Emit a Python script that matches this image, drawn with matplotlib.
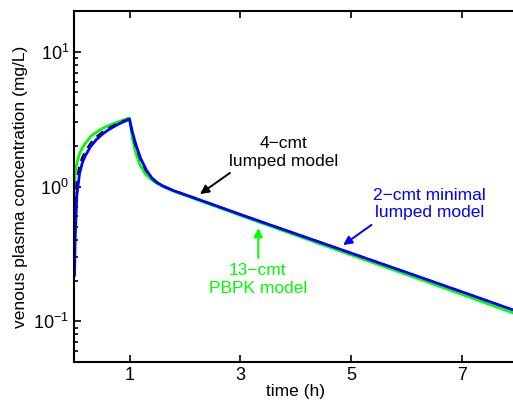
import numpy as np
import matplotlib
matplotlib.use("Agg")
import matplotlib.pyplot as plt
from matplotlib.ticker import LogLocator, FixedLocator, NullFormatter

plt.rcParams['font.family'] = ['Liberation Sans', 'DejaVu Sans']
plt.rcParams['mathtext.default'] = 'regular'

# 1 h infusion, venous plasma concentration (mg/L)
t_pbpk = [0.005, 0.02, 0.05, 0.1, 0.15, 0.2, 0.3, 0.4, 0.5, 0.6, 0.7, 0.8, 0.9, 1.0,
          1.05, 1.1, 1.15, 1.2, 1.3, 1.4, 1.5, 1.6, 1.8, 2.0, 2.5, 3.0, 3.5, 4.0,
          5.0, 6.0, 7.0, 8.0]
c_pbpk = [0.9, 1.2, 1.48, 1.75, 1.93, 2.08, 2.35, 2.52, 2.68, 2.80, 2.91, 3.02, 3.12, 3.22,
          2.3, 1.86, 1.6, 1.42, 1.22, 1.12, 1.05, 1.0, 0.92, 0.86, 0.725, 0.61, 0.515, 0.435,
          0.31, 0.222, 0.158, 0.112]

t_2cmt = [0.01, 0.02, 0.05, 0.1, 0.15, 0.2, 0.3, 0.4, 0.5, 0.6, 0.7, 0.8, 0.9, 1.0,
          1.05, 1.1, 1.15, 1.2, 1.3, 1.4, 1.5, 1.6, 1.8, 2.0, 2.5, 3.0, 3.5, 4.0,
          5.0, 6.0, 7.0, 8.0]
c_2cmt = [0.22, 0.40, 0.85, 1.25, 1.50, 1.68, 1.98, 2.22, 2.42, 2.60, 2.75, 2.90, 3.03, 3.15,
          2.55, 2.15, 1.85, 1.62, 1.33, 1.16, 1.07, 1.01, 0.93, 0.87, 0.735, 0.62, 0.525, 0.445,
          0.32, 0.23, 0.165, 0.118]

t_4cmt = [0.01, 0.02, 0.05, 0.1, 0.15, 0.2, 0.3, 0.4, 0.5, 0.6, 0.7, 0.8, 0.9, 1.0,
          1.05, 1.1, 1.15, 1.2, 1.3, 1.4, 1.5, 1.6, 1.8, 2.0, 2.5, 3.0, 3.5, 4.0,
          5.0, 6.0, 7.0, 8.0]
c_4cmt = [0.45, 0.7, 1.1, 1.45, 1.65, 1.82, 2.1, 2.33, 2.52, 2.68, 2.82, 2.95, 3.07, 3.18,
          2.45, 2.05, 1.78, 1.57, 1.30, 1.15, 1.06, 1.01, 0.93, 0.87, 0.735, 0.62, 0.525, 0.445,
          0.32, 0.23, 0.165, 0.118]

x_ticks = [1, 3, 5, 7]

fig = plt.figure(figsize=(5.13, 4.05), dpi=100)
ax = fig.add_axes([74 / 513, 43 / 405, 444 / 513, 351 / 405])

# green under, dashed 4-cmt next, blue on top
ax.plot(t_pbpk, c_pbpk, color='#00ff00', lw=2)
ax.plot(t_4cmt, c_4cmt, color='black', lw=1.5, ls=(0, (4, 3)))
ax.plot(t_2cmt, c_2cmt, color='#0000ff', lw=2)

ax.set_yscale('log')
ax.set_xlim(0, 8)
ax.set_ylim(0.05, 20)
ax.xaxis.set_major_locator(FixedLocator(x_ticks))
ax.yaxis.set_major_locator(LogLocator(base=10, numticks=10))
ax.yaxis.set_minor_locator(LogLocator(base=10, subs=np.arange(2, 10), numticks=10))
ax.yaxis.set_minor_formatter(NullFormatter())

ax.tick_params(which='both', direction='in', top=True, right=False, labelsize=13, width=1.2)
ax.tick_params(which='major', length=5)
ax.tick_params(which='minor', length=3)
for s in ax.spines.values():
    s.set_linewidth(1.5)

ax.set_xlabel('time (h)', fontsize=12.5, labelpad=0)
ax.set_ylabel('venous plasma concentration (mg/L)', fontsize=12.5, labelpad=4)

arrow = dict(arrowstyle='-|>', lw=1.4, mutation_scale=13, shrinkA=0, shrinkB=0)

ax.text(3.77, 1.79, '4\u2212cmt\nlumped model', ha='center', va='center',
        fontsize=12.5, color='black')
ax.annotate('', xy=(2.27, 0.879), xytext=(2.81, 1.26),
            arrowprops=dict(arrow, color='black'))

ax.text(6.41, 0.741, '2\u2212cmt minimal\nlumped model', ha='center', va='center',
        fontsize=12.5, color='#0000ff')
ax.annotate('', xy=(4.85, 0.368), xytext=(5.36, 0.519),
            arrowprops=dict(arrow, color='#0000ff'))

ax.text(3.31, 0.204, '13\u2212cmt\nPBPK model', ha='center', va='center',
        fontsize=12.5, color='#00ff00')
ax.annotate('', xy=(3.32, 0.492), xytext=(3.32, 0.295),
            arrowprops=dict(arrow, color='#00ff00'))

fig.savefig('out.png', dpi=100)
